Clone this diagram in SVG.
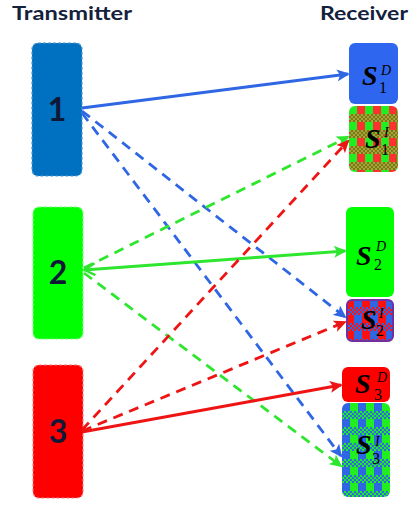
<svg xmlns="http://www.w3.org/2000/svg" width="411" height="506" viewBox="0 0 411 506">
  <style>
    .title { font-family: Lato, "Open Sans", "Liberation Sans", sans-serif; font-weight: bold; font-size: 18px; fill: #14213d; }
    .num { font-family: Lato, "Open Sans", "Liberation Sans", sans-serif; font-weight: bold; font-size: 32px; fill: #101838; text-anchor: middle; }
    .tx { stroke-width: 1.2; stroke-dasharray: 3 2; }
    .s { font-family: "Liberation Serif", "DejaVu Serif", serif; font-weight: bold; font-style: italic; font-size: 28px; fill: #000; }
    .sub { font-family: "Liberation Serif", "DejaVu Serif", serif; font-size: 16px; fill: #000; }
    .sup { font-family: "Liberation Serif", "DejaVu Serif", serif; font-style: italic; font-size: 14px; fill: #000; }
    .link { fill: none; stroke-width: 2.8; }
    .dash { stroke-dasharray: 10 7; }
    .blue { stroke: #2f66e4; }
    .green { stroke: #2ee62e; }
    .red { stroke: #ee1414; }
  </style>
  <defs>
    <!-- filled arrowheads, one per colour -->
    <marker id="ah-blue" markerUnits="userSpaceOnUse" markerWidth="14" markerHeight="12" refX="11" refY="6" orient="auto">
      <path d="M0,0 L13,6 L0,12 L3,6 Z" fill="#2f66e4"/>
    </marker>
    <marker id="ah-green" markerUnits="userSpaceOnUse" markerWidth="14" markerHeight="12" refX="11" refY="6" orient="auto">
      <path d="M0,0 L13,6 L0,12 L3,6 Z" fill="#2ee62e"/>
    </marker>
    <marker id="ah-red" markerUnits="userSpaceOnUse" markerWidth="14" markerHeight="12" refX="11" refY="6" orient="auto">
      <path d="M0,0 L13,6 L0,12 L3,6 Z" fill="#ee1414"/>
    </marker>
    <!-- open chevron at the transmitter end of the green link -->
    <marker id="oh-green" markerUnits="userSpaceOnUse" markerWidth="14" markerHeight="14" refX="1" refY="7" orient="auto">
      <path d="M12,1 L1.5,7 L12,13" fill="none" stroke="#2ee62e" stroke-width="2.4"/>
    </marker>

    <!-- fine dither tiles -->
    <pattern id="dith-rg" width="4" height="4" patternUnits="userSpaceOnUse">
      <rect width="4" height="4" fill="#ff3030"/>
      <rect width="2" height="2" fill="#20ee20"/>
      <rect x="2" y="2" width="2" height="2" fill="#20ee20"/>
    </pattern>
    <pattern id="dith-br" width="4" height="4" patternUnits="userSpaceOnUse">
      <rect width="4" height="4" fill="#ff1010"/>
      <rect width="2" height="2" fill="#2f66e4"/>
      <rect x="2" y="2" width="2" height="2" fill="#2f66e4"/>
    </pattern>
    <pattern id="dith-bg" width="4" height="4" patternUnits="userSpaceOnUse">
      <rect width="4" height="4" fill="#20ee20"/>
      <rect width="2" height="2" fill="#2f66e4"/>
      <rect x="2" y="2" width="2" height="2" fill="#2f66e4"/>
    </pattern>

    <!-- woven block tiles for the interference cells -->
    <pattern id="weave-rg" x="349" y="106" width="16" height="16" patternUnits="userSpaceOnUse">
      <rect width="16" height="16" fill="url(#dith-rg)"/>
      <rect x="0" y="0" width="8" height="8" fill="#20ee20"/>
      <rect x="8" y="0" width="8" height="8" fill="#ff3030"/>
    </pattern>
    <pattern id="weave-br" x="346" y="299" width="16" height="16" patternUnits="userSpaceOnUse">
      <rect width="16" height="16" fill="url(#dith-br)"/>
      <rect x="0" y="0" width="8" height="8" fill="#ff1010"/>
      <rect x="8" y="0" width="8" height="8" fill="#2f66e4"/>
    </pattern>
    <pattern id="weave-bg" x="342" y="403" width="16" height="16" patternUnits="userSpaceOnUse">
      <rect width="16" height="16" fill="url(#dith-bg)"/>
      <rect x="0" y="0" width="8" height="8" fill="#2f66e4"/>
      <rect x="8" y="0" width="8" height="8" fill="#20ee20"/>
    </pattern>
  </defs>

  <rect width="411" height="506" fill="#ffffff"/>

  <text class="title" x="12" y="20" textLength="120" lengthAdjust="spacingAndGlyphs">Transmitter</text>
  <text class="title" x="320" y="20" textLength="88" lengthAdjust="spacingAndGlyphs">Receiver</text>

  <!-- transmitters -->
  <g id="tx1">
    <rect class="tx" x="32" y="43" width="50" height="133" rx="6" fill="#0070c0" stroke="#4a9ad6"/>
    <text class="num" x="57" y="121">1</text>
  </g>
  <g id="tx2">
    <rect class="tx" x="33" y="207" width="50" height="132" rx="6" fill="#00ff00" stroke="#7aff7a"/>
    <text class="num" x="58" y="284">2</text>
  </g>
  <g id="tx3">
    <rect class="tx" x="33" y="365" width="50" height="133" rx="6" fill="#ff0000" stroke="#ff7a7a"/>
    <text class="num" x="58" y="443">3</text>
  </g>

  <!-- receiver cells -->
  <g id="rx1-desired">
    <rect x="349" y="43" width="49" height="61" rx="6" fill="#2f66f0"/>
    <text class="s" x="362" y="85">S</text>
    <text class="sub" x="379" y="93">1</text>
    <text class="sup" x="381" y="75">D</text>
  </g>
  <g id="rx1-interference">
    <rect x="349" y="106" width="49" height="66" rx="6" fill="url(#weave-rg)"/>
    <text class="s" x="365" y="148">S</text>
    <text class="sub" x="381" y="155">1</text>
    <text class="sup" x="384" y="137">I</text>
  </g>
  <g id="rx2-desired">
    <rect x="346" y="207" width="48" height="90" rx="6" fill="#00ff00"/>
    <text class="s" x="356" y="265">S</text>
    <text class="sub" x="374" y="270">2</text>
    <text class="sup" x="376" y="251">D</text>
  </g>
  <g id="rx2-interference">
    <rect x="347" y="300" width="46" height="41" rx="5" fill="url(#weave-br)" stroke="#7030a0" stroke-width="2"/>
    <text class="s" x="361" y="329">S</text>
    <text class="sub" x="376" y="336">2</text>
    <text class="sup" x="379" y="318">I</text>
  </g>
  <g id="rx3-desired">
    <rect x="342" y="367" width="48" height="35" rx="6" fill="#ff0000"/>
    <text class="s" x="355" y="393">S</text>
    <text class="sub" x="374" y="400">3</text>
    <text class="sup" x="377" y="382">D</text>
  </g>
  <g id="rx3-interference">
    <rect x="342" y="403" width="48" height="94" rx="6" fill="url(#weave-bg)"/>
    <text class="s" x="356" y="454">S</text>
    <text class="sub" x="372" y="464">3</text>
    <text class="sup" x="375" y="446">I</text>
  </g>

  <!-- links -->
  <g id="links">
    <line class="link blue" x1="82" y1="108" x2="348" y2="74" marker-end="url(#ah-blue)"/>
    <line class="link blue dash" x1="82" y1="111" x2="345" y2="317" marker-end="url(#ah-blue)"/>
    <line class="link blue dash" x1="82" y1="113" x2="341" y2="456" marker-end="url(#ah-blue)"/>

    <line class="link green" x1="84" y1="270" x2="345" y2="251" marker-start="url(#oh-green)" marker-end="url(#ah-green)"/>
    <line class="link green dash" x1="84" y1="268" x2="348" y2="137" marker-end="url(#ah-green)"/>
    <line class="link green dash" x1="84" y1="273" x2="341" y2="466" marker-end="url(#ah-green)"/>

    <line class="link red" x1="82" y1="432" x2="341" y2="385" marker-end="url(#ah-red)"/>
    <line class="link red dash" x1="82" y1="430" x2="348" y2="141" marker-end="url(#ah-red)"/>
    <line class="link red dash" x1="82" y1="431" x2="345" y2="322" marker-end="url(#ah-red)"/>
  </g>
</svg>
